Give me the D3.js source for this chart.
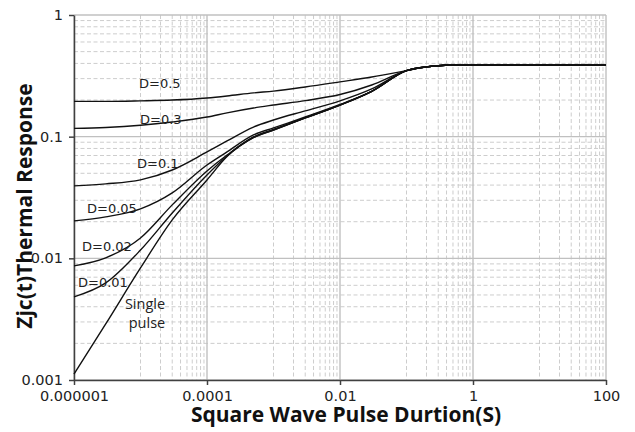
<!DOCTYPE html>
<html>
<head>
    <meta charset="utf-8"/>
    <title>Transient thermal response</title>
    <script src="https://d3js.org/d3.v7.min.js"></script>
    <style>
        body {
            margin: 0;
            background: #fff;
        }

        svg {
            display: block;
        }

        .grid-major {
            stroke: #c0c0c0;
            stroke-width: 1.4;
        }

        .grid-minor {
            stroke: #cdcdcd;
            stroke-width: 1;
            stroke-dasharray: 4 2.5;
        }

        .axis path, .axis line {
            stroke: #404040;
            stroke-width: 1.5;
        }

        .axis text {
            font-family: 'DejaVu Sans', sans-serif;
            font-size: 14.5px;
            fill: #222;
        }

        .curve {
            fill: none;
            stroke: #111;
            stroke-width: 1.4;
        }

        text.dlabel {
            font-family: 'DejaVu Sans', sans-serif;
            font-size: 13px;
            fill: #222;
        }

        text.single {
            font-family: 'Open Sans', sans-serif;
            font-size: 14.5px;
            fill: #222;
        }

        text.title {
            font-family: 'Open Sans', sans-serif;
            font-weight: 700;
            font-size: 21px;
            fill: #111;
        }
    </style>
</head>
<body>
<svg width="635" height="432"></svg>

<script>
    // pulse durations (s) shared by every curve
    const pulseTimes = [1e-6, 3e-6, 1e-5, 3e-5, 1e-4, 2e-4, 5e-4, 1e-3, 3e-3, 1e-2, 3e-2, 0.1, 0.2, 0.5, 1, 10, 100];

    const duty05 = [0.195, 0.195, 0.197, 0.200, 0.208, 0.216, 0.229, 0.237, 0.256, 0.282, 0.309, 0.349, 0.375, 0.388, 0.39, 0.39, 0.39];
    const duty03 = [0.117, 0.119, 0.124, 0.132, 0.145, 0.157, 0.172, 0.182, 0.198, 0.222, 0.266, 0.349, 0.375, 0.388, 0.39, 0.39, 0.39];
    const duty01 = [0.0394, 0.0409, 0.0441, 0.0532, 0.0749, 0.0922, 0.120, 0.137, 0.163, 0.197, 0.247, 0.349, 0.375, 0.388, 0.39, 0.39, 0.39];
    const duty005 = [0.0203, 0.0219, 0.0255, 0.0345, 0.0585, 0.0749, 0.1033, 0.118, 0.145, 0.184, 0.236, 0.349, 0.375, 0.388, 0.39, 0.39, 0.39];
    const duty002 = [0.00867, 0.0101, 0.0147, 0.0275, 0.0523, 0.0707, 0.0995, 0.1146, 0.1425, 0.182, 0.236, 0.349, 0.375, 0.388, 0.39, 0.39, 0.39];
    const duty001 = [0.00482, 0.00628, 0.0117, 0.0236, 0.0485, 0.0694, 0.0985, 0.1135, 0.1425, 0.182, 0.236, 0.349, 0.375, 0.388, 0.39, 0.39, 0.39];
    const singlePulse = [0.00112, 0.00289, 0.00834, 0.0207, 0.0441, 0.0686, 0.098, 0.1135, 0.1425, 0.182, 0.236, 0.349, 0.375, 0.388, 0.39, 0.39, 0.39];

    const curveNames = ['D=0.5', 'D=0.3', 'D=0.1', 'D=0.05', 'D=0.02', 'D=0.01', 'Single pulse'];
    const curveValues = [duty05, duty03, duty01, duty005, duty002, duty001, singlePulse];

    const xTickValues = [1e-6, 1e-4, 1e-2, 1, 100];
    const xTickLabels = ['0.000001', '0.0001', '0.01', '1', '100'];
    const yTickValues = [0.001, 0.01, 0.1, 1];
    const yTickLabels = ['0.001', '0.01', '0.1', '1'];

    const svg = d3.select('svg');

    const plotLeft = 74, plotRight = 606, plotTop = 15, plotBottom = 380;

    const xScale = d3.scaleLog().domain([1e-6, 100]).range([plotLeft, plotRight]);
    const yScale = d3.scaleLog().domain([0.001, 1]).range([plotBottom, plotTop]);

    // minor gridlines: x axis has a major unit of two decades
    const xMinor = [];
    for (let e = -6; e < 2; e += 2) {
        for (let k = 1; k <= 9; k++) xMinor.push(k * Math.pow(10, e + 1));
    }
    const yMinor = [];
    for (let e = -3; e < 0; e++) {
        for (let k = 2; k <= 9; k++) yMinor.push(k * Math.pow(10, e));
    }

    const grid = svg.append('g');

    grid.selectAll('.vx')
        .data(xMinor)
        .enter()
        .append('line')
        .attr('class', 'grid-minor')
        .attr('x1', (d) => xScale(d)).attr('x2', (d) => xScale(d))
        .attr('y1', plotTop).attr('y2', plotBottom);

    grid.selectAll('.hy')
        .data(yMinor)
        .enter()
        .append('line')
        .attr('class', 'grid-minor')
        .attr('x1', plotLeft).attr('x2', plotRight)
        .attr('y1', (d) => yScale(d)).attr('y2', (d) => yScale(d));

    grid.selectAll('.vX')
        .data(xTickValues)
        .enter()
        .append('line')
        .attr('class', 'grid-major')
        .attr('x1', (d) => xScale(d)).attr('x2', (d) => xScale(d))
        .attr('y1', plotTop).attr('y2', plotBottom);

    grid.selectAll('.hY')
        .data(yTickValues)
        .enter()
        .append('line')
        .attr('class', 'grid-major')
        .attr('x1', plotLeft).attr('x2', plotRight)
        .attr('y1', (d) => yScale(d)).attr('y2', (d) => yScale(d));

    const xAxis = d3.axisBottom(xScale)
        .tickValues(xTickValues)
        .tickFormat((d, i) => xTickLabels[i])
        .tickSize(5)
        .tickSizeOuter(0)
        .tickPadding(6);

    const yAxis = d3.axisLeft(yScale)
        .tickValues(yTickValues)
        .tickFormat((d, i) => yTickLabels[i])
        .tickSize(5)
        .tickSizeOuter(0)
        .tickPadding(6);

    svg.append('g')
        .attr('class', 'axis')
        .attr('transform', `translate(0, ${plotBottom})`)
        .call(xAxis);

    svg.append('g')
        .attr('class', 'axis')
        .attr('transform', `translate(${plotLeft}, 0)`)
        .call(yAxis);

    const line = d3.line()
        .x((d) => xScale(d[0]))
        .y((d) => yScale(d[1]))
        .curve(d3.curveMonotoneX);

    svg.append('g')
        .selectAll('path')
        .data(curveValues)
        .enter()
        .append('path')
        .attr('class', 'curve')
        .attr('d', (vals) => line(pulseTimes.map((t, i) => [t, vals[i]])));

    // curve labels (pixel anchors: start x, baseline y)
    const labelSpots = [[139, 88], [140, 124], [137, 168], [87, 213], [82, 251], [78, 287]];
    svg.append('g')
        .selectAll('text')
        .data(curveNames.slice(0, 6))
        .enter()
        .append('text')
        .attr('class', 'dlabel')
        .attr('x', (d, i) => labelSpots[i][0])
        .attr('y', (d, i) => labelSpots[i][1])
        .text((d) => d);

    const singleWords = curveNames[6].split(' ');
    svg.append('text')
        .attr('class', 'single')
        .attr('x', 145)
        .attr('y', 309)
        .attr('text-anchor', 'middle')
        .text(singleWords[0]);
    svg.append('text')
        .attr('class', 'single')
        .attr('x', 147)
        .attr('y', 328)
        .attr('text-anchor', 'middle')
        .text(singleWords[1]);

    svg.append('text')
        .attr('class', 'title')
        .attr('x', 346)
        .attr('y', 422)
        .attr('text-anchor', 'middle')
        .text('Square Wave Pulse Durtion(S)');

    svg.append('text')
        .attr('class', 'title')
        .attr('transform', 'translate(32, 206) rotate(-90)')
        .attr('text-anchor', 'middle')
        .text('Zjc(t)Thermal Response');
</script>
</body>
</html>
